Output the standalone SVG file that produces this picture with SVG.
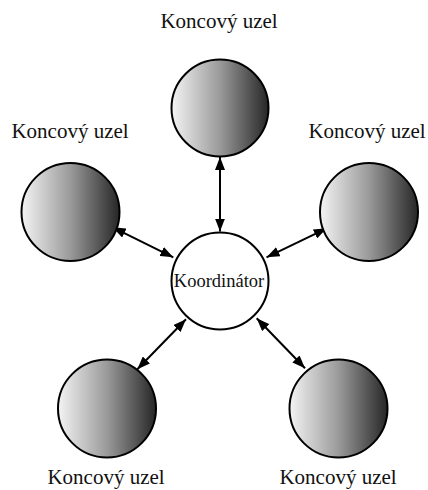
<svg xmlns="http://www.w3.org/2000/svg" width="428" height="490" viewBox="0 0 428 490">
  <style>
    .end { stroke: #000; stroke-width: 2; fill: url(#shade); }
    .hub { stroke: #000; stroke-width: 2; fill: #fff; }
    .lbl { font-family: "Liberation Serif", "Times New Roman", serif; font-size: 21px; fill: #111; text-anchor: middle; }
    .hublbl { font-family: "Liberation Serif", "Times New Roman", serif; font-size: 18.5px; fill: #111; text-anchor: middle; }
    .link { stroke: #000; stroke-width: 2; fill: none; marker-start: url(#head); marker-end: url(#head); }
  </style>
  <defs>
    <linearGradient id="shade" x1="0" y1="0" x2="1" y2="0">
      <stop offset="0" stop-color="#f4f4f4"/>
      <stop offset="0.5" stop-color="#9a9a9a"/>
      <stop offset="1" stop-color="#262626"/>
    </linearGradient>
    <marker id="head" viewBox="0 0 13 10" refX="13" refY="5" markerWidth="13" markerHeight="10" markerUnits="userSpaceOnUse" orient="auto-start-reverse">
      <path d="M0,0 L13,5 L0,10 Z" fill="#000"/>
    </marker>
  </defs>

  <!-- connectors: hub to each end node, arrows both ways -->
  <g id="connectors">
    <line class="link" x1="220" y1="157" x2="220" y2="231.5"/>
    <line class="link" x1="112.7" y1="227.3" x2="173.3" y2="257.3"/>
    <line class="link" x1="326.7" y1="228.3" x2="266.5" y2="257.3"/>
    <line class="link" x1="137.3" y1="369.3" x2="186" y2="319.3"/>
    <line class="link" x1="305" y1="368.3" x2="256.7" y2="318.3"/>
  </g>

  <g id="hub">
    <circle class="hub" cx="220" cy="281" r="48.5"/>
    <text class="hublbl" x="219" y="287">Koordinátor</text>
  </g>

  <g id="node-top">
    <circle class="end" cx="220" cy="108" r="48.5"/>
    <text class="lbl" x="219" y="28">Koncový uzel</text>
  </g>

  <g id="node-left">
    <circle class="end" cx="70.5" cy="212" r="49"/>
    <text class="lbl" x="70" y="138">Koncový uzel</text>
  </g>

  <g id="node-right">
    <circle class="end" cx="369" cy="212" r="49"/>
    <text class="lbl" x="367" y="138">Koncový uzel</text>
  </g>

  <g id="node-bottom-left">
    <circle class="end" cx="107" cy="408.5" r="49"/>
    <text class="lbl" x="106" y="484">Koncový uzel</text>
  </g>

  <g id="node-bottom-right">
    <circle class="end" cx="338.5" cy="408.5" r="49"/>
    <text class="lbl" x="338" y="484">Koncový uzel</text>
  </g>
</svg>
